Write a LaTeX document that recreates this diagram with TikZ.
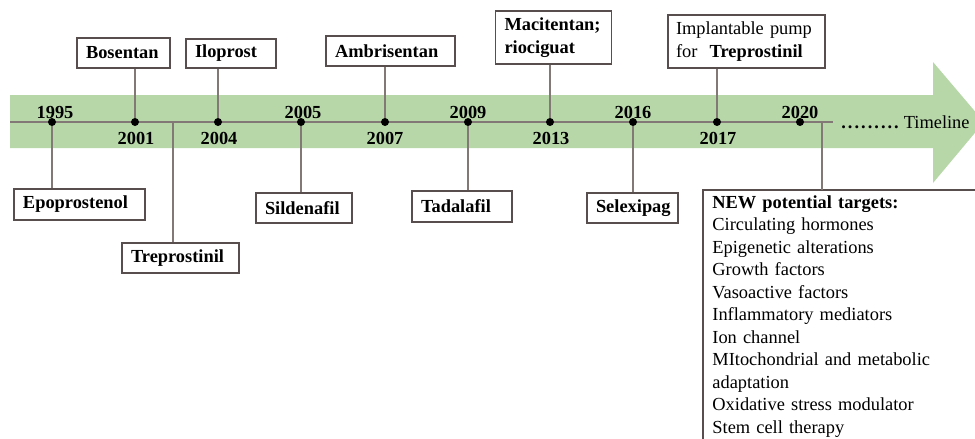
\documentclass[tikz,border=0pt]{standalone}
\usepackage{fontspec}
\setmainfont{Liberation Serif}
\definecolor{bandc}{RGB}{183,215,168}
\definecolor{boxc}{RGB}{88,78,78}
\definecolor{linec}{RGB}{130,120,118}
\begin{document}
\begin{tikzpicture}[x=0.5pt,y=-0.5pt,
  basefont/.style={font=\fontsize{9.2}{11.25}\selectfont},
  drug/.style={draw=boxc, line width=0.8pt, fill=white, basefont, font=\fontsize{9.2}{11.25}\selectfont\bfseries,
    inner xsep=4.5pt, inner ysep=0pt, align=left, anchor=center},
  yr/.style={font=\fontsize{9.2}{11}\selectfont\bfseries, inner sep=0pt},
  tdot/.style={circle, fill=black, inner sep=0pt, minimum size=4pt},
  conn/.style={draw=linec, line width=0.6pt}]
\useasboundingbox (0,0) rectangle (975,439);
\clip (0,0) rectangle (975,439);
% band arrow
\fill[bandc] (10,95) -- (933,95) -- (933,62) -- (984,122) -- (933,183) -- (933,148) -- (10,148) -- cycle;
% main line
\coordinate (lstart) at (10,122);
\coordinate (lend) at (833,122);
\draw[linec, line width=0.8pt] (lstart) -- (lend);
% timeline label
\node[basefont, anchor=west, inner sep=0pt] (tl) at (841,122) {\textbf{.\kern1pt.\kern1pt.\kern1pt.\kern1pt.\kern1pt.\kern1pt.\kern1pt.\kern1pt.}\kern2.5pt Timeline};
% dots
\node[tdot] (d1995) at (52,122) {};
\node[tdot] (d2001) at (135,122) {};
\node[tdot] (d2004) at (218,122) {};
\node[tdot] (d2005) at (301,122) {};
\node[tdot] (d2007) at (385,122) {};
\node[tdot] (d2009) at (468,122) {};
\node[tdot] (d2013) at (550,122) {};
\node[tdot] (d2016) at (633,122) {};
\node[tdot] (d2017) at (717,122) {};
\node[tdot] (d2020) at (800,122) {};
\coordinate (t1999) at (173,122);
\coordinate (t2021) at (822,122);
% year labels
\node[yr] (y1995) at (55,112) {1995};
\node[yr] (y2001) at (136,138) {2001};
\node[yr] (y2004) at (219,138) {2004};
\node[yr] (y2005) at (303,112) {2005};
\node[yr] (y2007) at (385,138) {2007};
\node[yr] (y2009) at (468,112) {2009};
\node[yr] (y2013) at (551,138) {2013};
\node[yr] (y2016) at (633,112) {2016};
\node[yr] (y2017) at (718,138) {2017};
\node[yr] (y2020) at (800,112) {2020};
% boxes above
\node[drug, text width=37.5pt, minimum height=15pt] (bosentan) at (123.5,53) {Bosentan};
\node[drug, text width=36pt, minimum height=14.5pt] (iloprost) at (231,53.5) {Iloprost};
\node[drug, text width=55.5pt, minimum height=15pt] (ambri) at (390.5,51) {Ambrisentan};
\node[drug, text width=49pt, minimum height=26.5pt] (maci) at (553.5,37.5) {Macitentan;\\riociguat};
\node[drug, text width=70.5pt, minimum height=26.5pt, inner xsep=4pt, font=\fontsize{9.2}{11.25}\selectfont] (pump) at (746.5,41.5) {Implantable pump\\for\ \ \textbf{Treprostinil}};
% boxes below
\node[drug, text width=56.5pt, minimum height=15.5pt] (epo) at (79.5,204.5) {Epoprostenol};
\node[drug, text width=49.5pt, minimum height=15pt] (trep) at (180.5,258) {Treprostinil};
\node[drug, text width=39pt, minimum height=15pt] (silden) at (304,208) {Sildenafil};
\node[drug, text width=41pt, minimum height=15.5pt] (tada) at (462,206.5) {Tadalafil};
\node[drug, text width=36.5pt, minimum height=15pt] (selexi) at (632.5,208) {Selexipag};
% connectors
\draw[conn] (bosentan.south -| d2001) -- (d2001);
\draw[conn] (iloprost.south -| d2004) -- (d2004);
\draw[conn] (ambri.south -| d2007) -- (d2007);
\draw[conn] (maci.south -| d2013) -- (d2013);
\draw[conn] (pump.south -| d2017) -- (d2017);
\draw[conn] (d1995) -- (epo.north -| d1995);
\draw[conn] (t1999) -- (trep.north -| t1999);
\draw[conn] (d2005) -- (silden.north -| d2005);
\draw[conn] (d2009) -- (tada.north -| d2009);
\draw[conn] (d2016) -- (selexi.north -| d2016);
% new targets box
\coordinate (nbtl) at (703,190);
\coordinate (nbbr) at (995,460);
\draw[boxc, line width=0.8pt, fill=white] (nbtl) rectangle (nbbr);
\draw[conn] (t2021) -- (t2021 |- nbtl);
\node[anchor=north west, inner xsep=4.5pt, inner ysep=2.5pt, text width=125pt, align=left,
  font=\fontsize{9.2}{11.25}\selectfont] (targets) at (nbtl)
  {\textbf{NEW potential targets:}\\
   Circulating hormones\\
   Epigenetic alterations\\
   Growth factors\\
   Vasoactive factors\\
   Inflammatory mediators\\
   Ion channel\\
   MItochondrial and metabolic\\
   adaptation\\
   Oxidative stress modulator\\
   Stem cell therapy};
\end{tikzpicture}
\end{document}
